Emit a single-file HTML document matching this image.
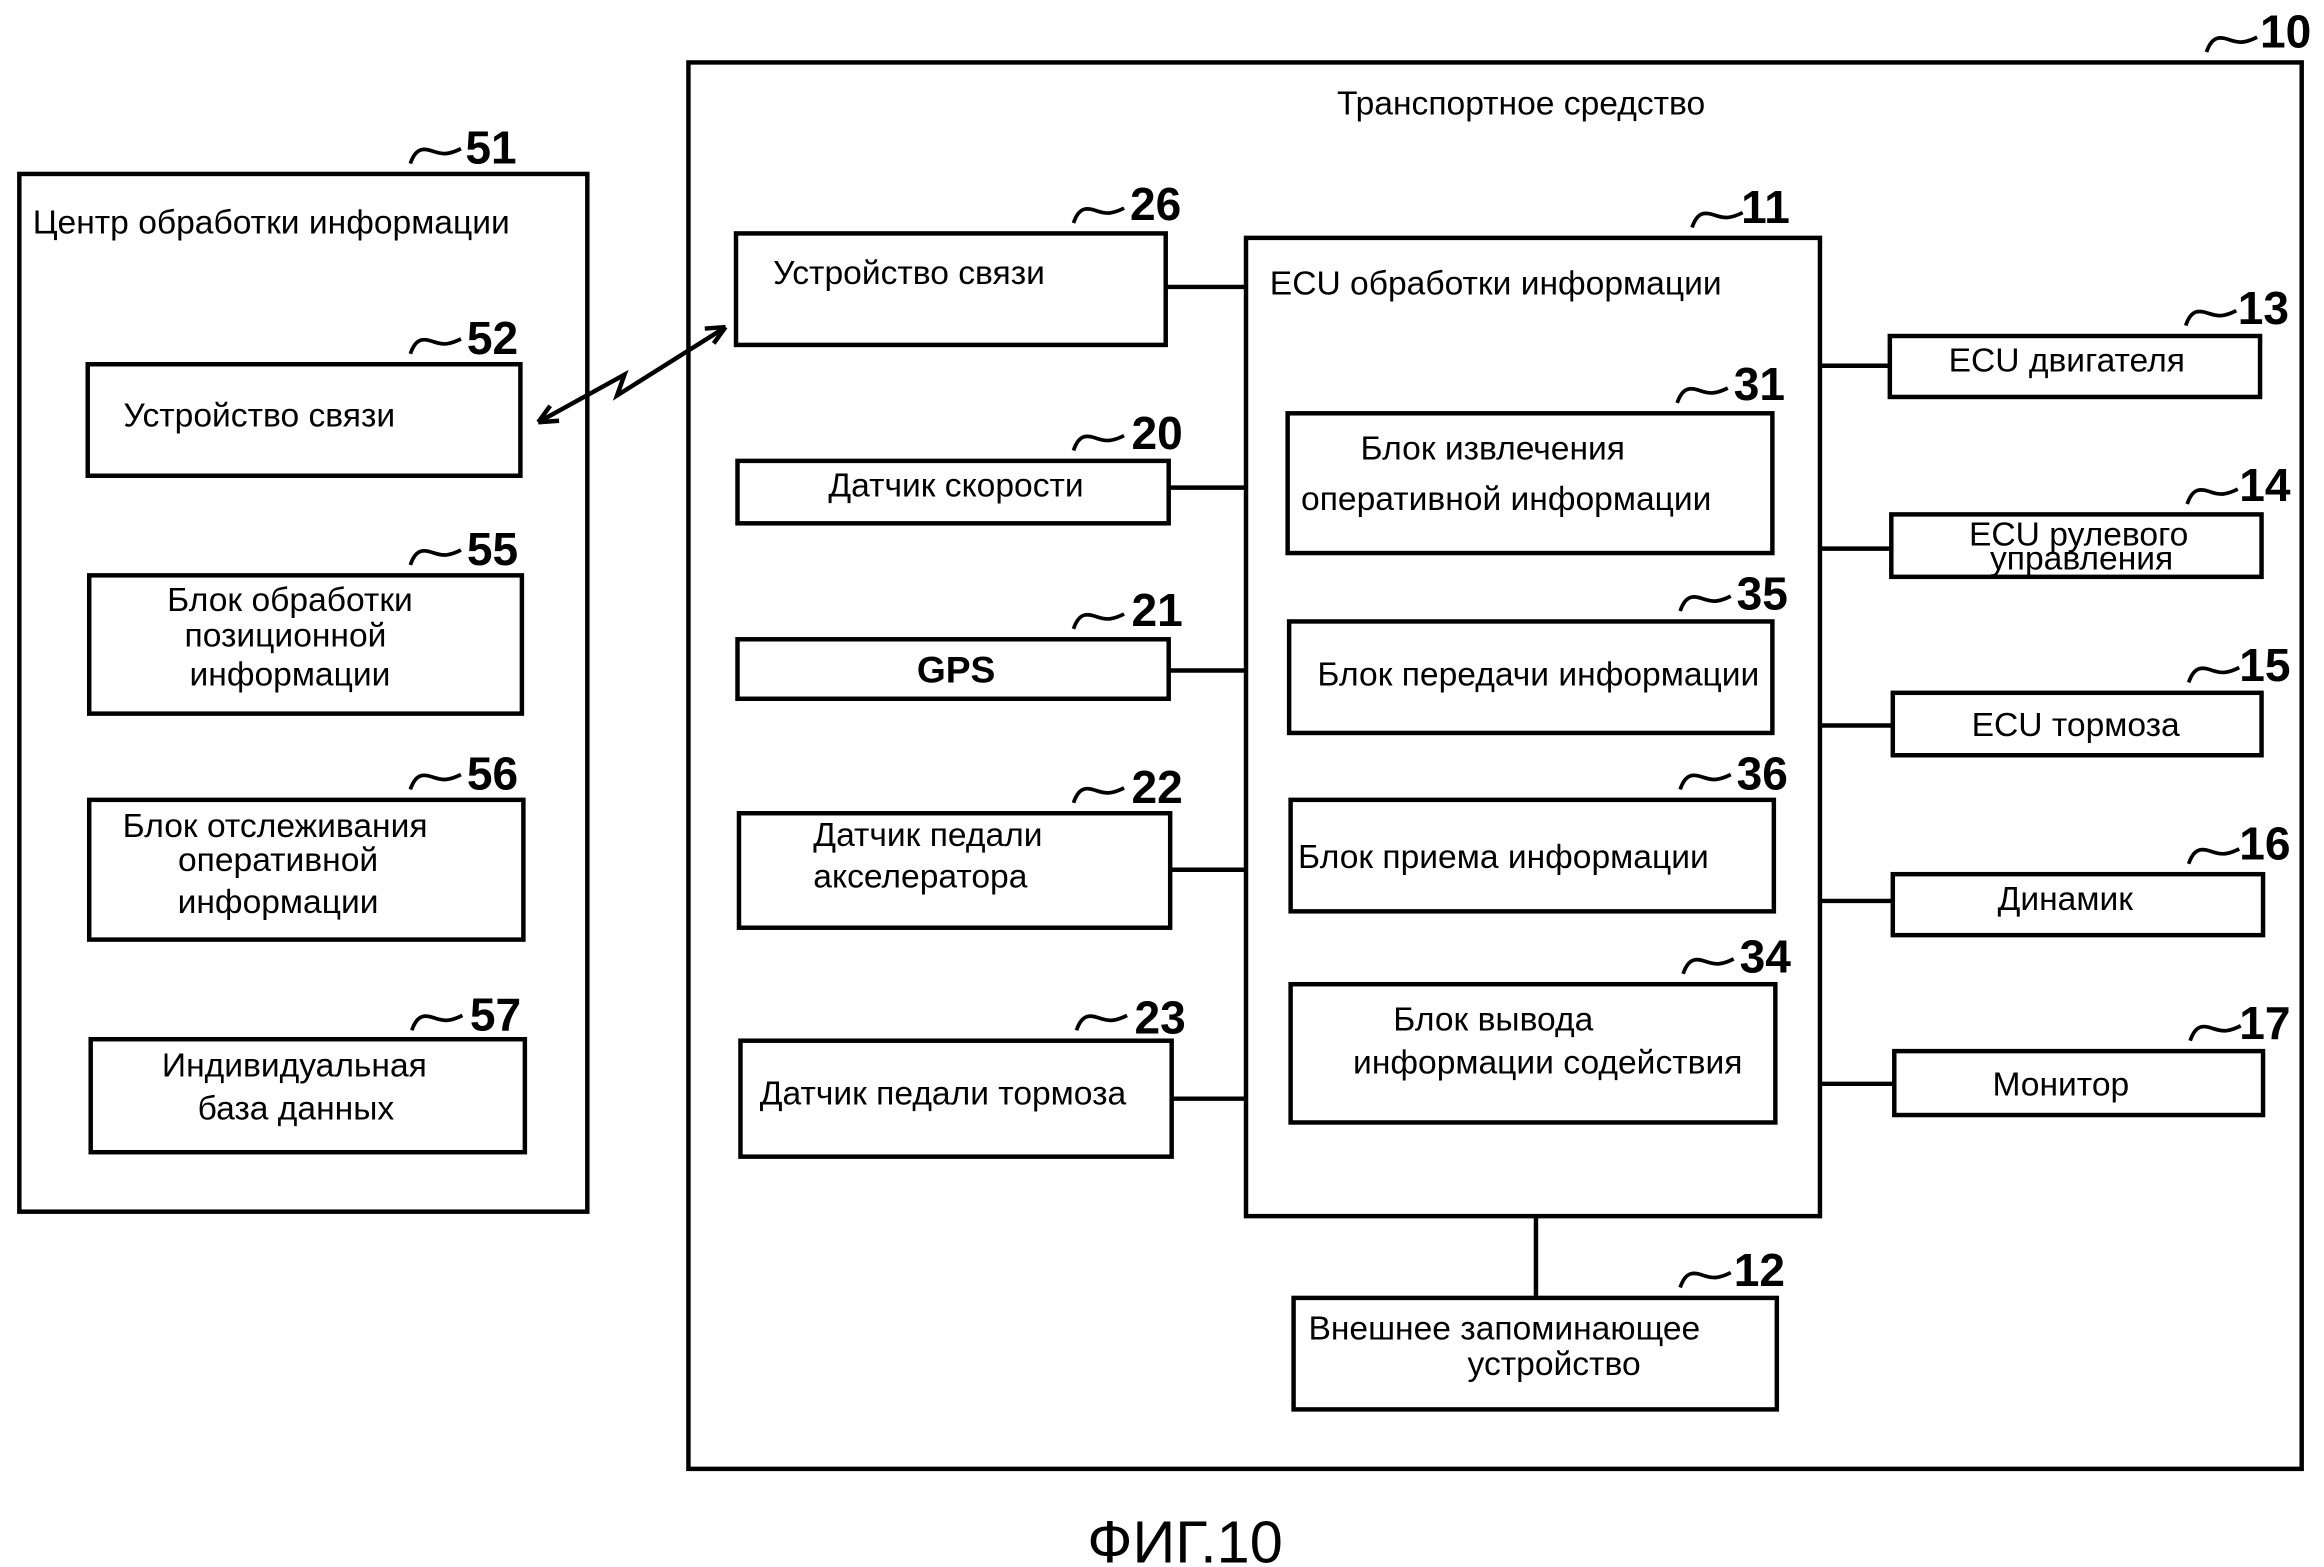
<!DOCTYPE html>
<html><head><meta charset="utf-8"><style>
html,body{margin:0;padding:0;background:#fff;}
svg{display:block;}
text{font-family:"Liberation Sans",sans-serif;fill:#000;}
.t{font-size:22.6px;}
.n{font-size:31px;font-weight:bold;}
</style></head><body>
<svg width="2324" height="1567" viewBox="0 0 1563 1054" preserveAspectRatio="none" xmlns="http://www.w3.org/2000/svg">
<g fill="none" stroke="#000" stroke-width="3">
<rect x="463" y="42" width="1085" height="946"/>
<rect x="13" y="117" width="382" height="698"/>
<rect x="59" y="245" width="291" height="75"/>
<rect x="60" y="387" width="291" height="93"/>
<rect x="60" y="538" width="292" height="94"/>
<rect x="61" y="699" width="292" height="76"/>
<rect x="495" y="157" width="289" height="75"/>
<rect x="496" y="310" width="290" height="42"/>
<rect x="496" y="430" width="290" height="40"/>
<rect x="497" y="547" width="290" height="77"/>
<rect x="498" y="700" width="290" height="78"/>
<rect x="838" y="160" width="386" height="658"/>
<rect x="866" y="278" width="326" height="94"/>
<rect x="867" y="418" width="325" height="75"/>
<rect x="868" y="538" width="325" height="75"/>
<rect x="868" y="662" width="326" height="93"/>
<rect x="870" y="873" width="325" height="75"/>
<rect x="1271" y="226" width="249" height="41"/>
<rect x="1272" y="346" width="249" height="42"/>
<rect x="1273" y="466" width="248" height="42"/>
<rect x="1273" y="588" width="249" height="41"/>
<rect x="1274" y="707" width="248" height="43"/>
<path d="M784 193H838M786 328H838M786 451H838M787 585H838M788 739H838"/>
<path d="M1224 246H1271M1224 369H1272M1224 488H1273M1224 606H1273M1224 729H1274"/>
<path d="M1033 818V873"/>
<path d="M362 284L420 252L415 266L488 220"/>
<path d="M362 284l14 -1M362 284l8 -11M488 220l-14 1M488 220l-8 11"/>
<g stroke-width="2.5" transform="translate(0,8)">
<path d="M276 102c4-12 10-10 16-8s10 2 18-2"/>
<path d="M276 230c4-12 10-10 16-8s10 2 18-2"/>
<path d="M276 372c4-12 10-10 16-8s10 2 18-2"/>
<path d="M276 523c4-12 10-10 16-8s10 2 18-2"/>
<path d="M277 685c4-12 10-10 16-8s10 2 18-2"/>
<path d="M722 142c4-12 10-10 16-8s10 2 18-2"/>
<path d="M722 295c4-12 10-10 16-8s10 2 18-2"/>
<path d="M722 415c4-12 10-10 16-8s10 2 18-2"/>
<path d="M722 532c4-12 10-10 16-8s10 2 18-2"/>
<path d="M724 685c4-12 10-10 16-8s10 2 18-2"/>
<path d="M1138 145c4-12 10-10 16-8s10 2 18-2"/>
<path d="M1128 263c4-12 10-10 16-8s10 2 18-2"/>
<path d="M1130 403c4-12 10-10 16-8s10 2 18-2"/>
<path d="M1130 523c4-12 10-10 16-8s10 2 18-2"/>
<path d="M1132 647c4-12 10-10 16-8s10 2 18-2"/>
<path d="M1130 858c4-12 10-10 16-8s10 2 18-2"/>
<path d="M1470 211c4-12 10-10 16-8s10 2 18-2"/>
<path d="M1471 331c4-12 10-10 16-8s10 2 18-2"/>
<path d="M1472 451c4-12 10-10 16-8s10 2 18-2"/>
<path d="M1472 573c4-12 10-10 16-8s10 2 18-2"/>
<path d="M1473 692c4-12 10-10 16-8s10 2 18-2"/>
<path d="M1484 27c4-12 10-10 16-8s10 2 18-2"/>
</g>
</g>
<g class="n">
<text x="313" y="110">51</text><text x="314" y="238">52</text><text x="314" y="380">55</text>
<text x="314" y="531">56</text><text x="316" y="693">57</text>
<text x="760" y="148">26</text><text x="761" y="302">20</text><text x="761" y="421">21</text>
<text x="761" y="540">22</text><text x="763" y="695">23</text>
<text x="1171" y="150">11</text><text x="1166" y="269">31</text><text x="1168" y="410">35</text>
<text x="1168" y="531">36</text><text x="1170" y="654">34</text><text x="1166" y="865">12</text>
<text x="1505" y="218">13</text><text x="1506" y="337">14</text><text x="1506" y="458">15</text>
<text x="1506" y="578">16</text><text x="1506" y="699">17</text><text x="1520" y="32">10</text>
</g>
<g class="t">
<text x="1023" y="77" text-anchor="middle">Транспортное средство</text>
<text x="22" y="157">Центр обработки информации</text>
<text x="83" y="287">Устройство связи</text>
<text x="195" y="411" text-anchor="middle">Блок обработки</text>
<text x="192" y="435" text-anchor="middle">позиционной</text>
<text x="195" y="461" text-anchor="middle">информации</text>
<text x="185" y="563" text-anchor="middle">Блок отслеживания</text>
<text x="187" y="586" text-anchor="middle">оперативной</text>
<text x="187" y="614" text-anchor="middle">информации</text>
<text x="198" y="724" text-anchor="middle">Индивидуальная</text>
<text x="199" y="753" text-anchor="middle">база данных</text>
<text x="520" y="191">Устройство связи</text>
<text x="643" y="334" text-anchor="middle">Датчик скорости</text>
<text x="643" y="459" text-anchor="middle" style="font-weight:bold;font-size:25px">GPS</text>
<text x="547" y="569">Датчик педали</text>
<text x="547" y="597">акселератора</text>
<text x="511" y="743">Датчик педали тормоза</text>
<text x="854" y="198">ECU обработки информации</text>
<text x="915" y="309">Блок извлечения</text>
<text x="875" y="343">оперативной информации</text>
<text x="886" y="461">Блок передачи информации</text>
<text x="873" y="584">Блок приема информации</text>
<text x="937" y="693">Блок вывода</text>
<text x="910" y="722">информации содействия</text>
<text x="880" y="901">Внешнее запоминающее</text>
<text x="987" y="925">устройство</text>
<text x="1390" y="250" text-anchor="middle">ECU двигателя</text>
<text x="1398" y="367" text-anchor="middle">ECU рулевого</text>
<text x="1400" y="383" text-anchor="middle">управления</text>
<text x="1396" y="495" text-anchor="middle">ECU тормоза</text>
<text x="1389" y="612" text-anchor="middle">Динамик</text>
<text x="1386" y="737" text-anchor="middle">Монитор</text>
<text x="797" y="1051" text-anchor="middle" style="font-size:40px">ФИГ.10</text>
</g>
</svg>
</body></html>
